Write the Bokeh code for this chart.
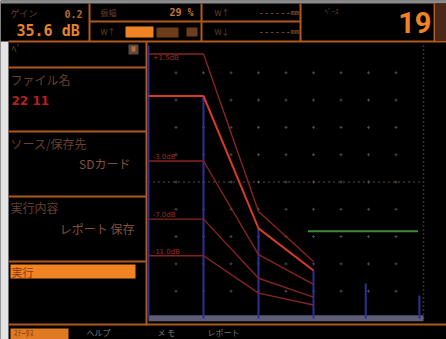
from bokeh.plotting import figure
from bokeh.models import Range1d
from bokeh.core.properties import value
from bokeh.embed import file_html
from bokeh.resources import INLINE

W, H = 446, 339

# ---- instrument readings ----
gain_label = "ゲイン"
gain_step = "0.2"
gain_db = "35.6 dB"
amp_label = "振幅"
amp_pct = "29 %"
w_labels = ["W↑", "W↓"]
screen_no = "19"

# ---- DAC curve: reference points (screen divisions, % full screen height) ----
dac_x = [0, 2, 4, 6]
dac_ref = [81.5, 81.5, 33.0, 17.6]
dac_db = [1.5, -3.0, -7.0, -11.0]
dac_labels = ["+1.5dB", "-3.0dB", "-7.0dB", "-11.0dB"]

# ---- A-scan echoes ----
echo_x = [0.0, 2.0, 4.0, 6.0, 7.9, 9.85]
echo_amp = [100.0, 81.5, 33.0, 17.6, 12.8, 8.4]

# ---- gate ----
gate_x = [5.8, 9.8]
gate_level = 32

# ---- graticule ----
x_div = list(range(1, 10))
y_div = list(range(10, 100, 10))

# ---- side menu ----
menu_titles = ["ファイル名", "ソース/保存先", "実行内容"]
menu_values = ["22 11", "SDカード", "レポート 保存"]
menu_action = "実行"
soft_keys = ["ｽﾃｰﾀｽ", "ヘルプ", "メ モ", "レポート"]

JP = value("Noto Sans CJK JP")
MONO = value("DejaVu Sans Mono")
SANS = value("DejaVu Sans")

ORANGE = "#b0591c"
DIM = "#664030"
BRIGHT = "#f08424"

p = figure(width=W, height=H, x_range=Range1d(0, W), y_range=Range1d(H, 0),
           x_axis_type=None, y_axis_type=None, toolbar_location=None,
           output_backend="svg", min_border=0, background_fill_color="black",
           border_fill_color="black", outline_line_color=None)

# A-scan frame mapped onto the screen: 10 divisions wide, 0..100 % high
CL, CR, CT, CB = 148, 423, 45, 318
sx = 10 / (CR - CL)
sy = 100 / (CB - CT)
p.extra_x_ranges = {"scr": Range1d(-CL * sx, (W - CL) * sx)}
p.extra_y_ranges = {"amp": Range1d(-(H - CB) * sy, CB * sy)}
CH = dict(x_range_name="scr", y_range_name="amp")


def box(l, r, t, b, color, alpha=1.0):
    p.quad(left=l, right=r, top=t, bottom=b, fill_color=color, fill_alpha=alpha, line_color=None)


def hline(x0, x1, y, color=ORANGE, w=2):
    p.segment(x0=[x0], y0=[y], x1=[x1], y1=[y], line_color=color, line_width=w)


def vline(x, y0, y1, color=ORANGE, w=2):
    p.segment(x0=[x], y0=[y0], x1=[x], y1=[y1], line_color=color, line_width=w)


def label(x, y, txt, size, color, font=JP, style="normal", align="left", base="middle"):
    p.text(x=[x], y=[y], text=[txt], text_font=font, text_font_size=size, text_color=color,
           text_font_style=style, text_align=align, text_baseline=base)


# ---- outer chrome ----
box(0, W, 0, 3, "#8c8c8c")
box(0, 8, 41, H, "#e4e4e4")

# ---- header ----
hline(8, W, 41, ORANGE, 2)
vline(89, 3, 41)
vline(201, 3, 41)
vline(300, 3, 41)
vline(434, 3, 41)
hline(89, 300, 21, ORANGE, 2)
box(435, W, 3, 40, "#4a2818")

label(10, 13, gain_label, "9px", DIM)
label(82, 13, gain_step, "10px", "#b86a2c", MONO, "bold", "right")
label(16, 30, gain_db, "15px", "#e58328", MONO, "bold")

label(100, 12, amp_label, "8px", DIM)
label(193, 12, amp_pct, "10px", "#c87830", MONO, "bold", "right")
label(100, 31, w_labels[0], "8px", DIM)
box(125, 153, 26, 37, BRIGHT)
box(156, 178, 27, 37, "#8a4c1e", 0.8)
box(186, 197, 27, 36, "#7a4420", 0.9)

for yy, wl in zip([12, 31], w_labels):
    label(214, yy, wl, "8px", DIM)
    label(258, yy, "------", "9px", "#a86230", MONO)
    label(290, yy, "mm", "7px", "#a86230", MONO)

label(324, 10, "ﾍﾞｰｽ", "7px", DIM)
label(431, 22, screen_no, "29px", BRIGHT, value("Roboto"), "bold", "right")

# ---- side menu ----
vline(146, 41, 325)
for yy in [67, 131, 196, 261]:
    hline(8, 146, yy, ORANGE, 2)
hline(8, W, 324, ORANGE, 2)

label(11, 48, "ﾍﾟ", "10px", DIM)
box(128, 138, 44, 54, "#5c4a40")
box(131, 135, 46, 51, "#b8702c")

ty = [79, 143, 207]
vy = [100, 163, 228]
vx = [11, 130, 134]
for i in range(3):
    label(10, ty[i], menu_titles[i], "12px", DIM)
for i, (vtxt, x, yy) in enumerate(zip(menu_values, vx, vy)):
    if i == 0:
        label(x, yy, vtxt, "12px", "#b82020", SANS, "bold")
    else:
        label(x, yy, vtxt, "12px", "#7e5238", JP, "normal", "right")

box(10, 135, 264, 278, BRIGHT)
label(11, 271, menu_action, "11px", "#8a3a10")

# ---- soft keys ----
box(10, 68, 328, H, "#e07a22")
label(13, 332, soft_keys[0], "8px", "#7a3a10")
for x, t in zip([86, 157, 207], soft_keys[1:]):
    label(x, 332, t, "8px", "#7c7c7c")

# ---- A-scan graticule ----
p.scatter(x=[x for x in x_div for _ in y_div], y=[y for _ in x_div for y in y_div],
          marker="cross", size=3, line_color="#4a4a4a", line_width=1, **CH)
p.line(x=[0, 10], y=[50, 50], line_color="#7a6252", line_width=1.5, line_dash="1 4", **CH)
p.line(x=[10, 10], y=[0, 100], line_color="#5e5e5e", line_width=1.5, line_dash="1 3", **CH)

# baseline noise band
p.quad(left=0, right=10, bottom=-1.0, top=1.2, fill_color="#5e5e78", line_color=None, **CH)

# echoes
p.segment(x0=echo_x, y0=[0] * len(echo_x), x1=echo_x, y1=echo_amp,
          line_color="#2e2e98", line_width=2, **CH)

# gate
p.line(x=gate_x, y=[gate_level] * 2, line_color="#3c8c3c", line_width=2, **CH)

# DAC family
for db, lab in zip(dac_db, dac_labels):
    ys = [v * 10 ** (db / 20) for v in dac_ref]
    p.line(x=dac_x, y=ys, line_color="#862420", line_width=1.4, **CH)
    p.text(x=[0.15], y=[ys[0]], text=[lab], text_font=SANS, text_font_size="7px",
           text_color="#9a3024", text_baseline="top" if db > 0 else "bottom", **CH)
p.line(x=dac_x, y=dac_ref, line_color="#d83a28", line_width=2, **CH)

open("out.html", "w").write(file_html(p, INLINE))
